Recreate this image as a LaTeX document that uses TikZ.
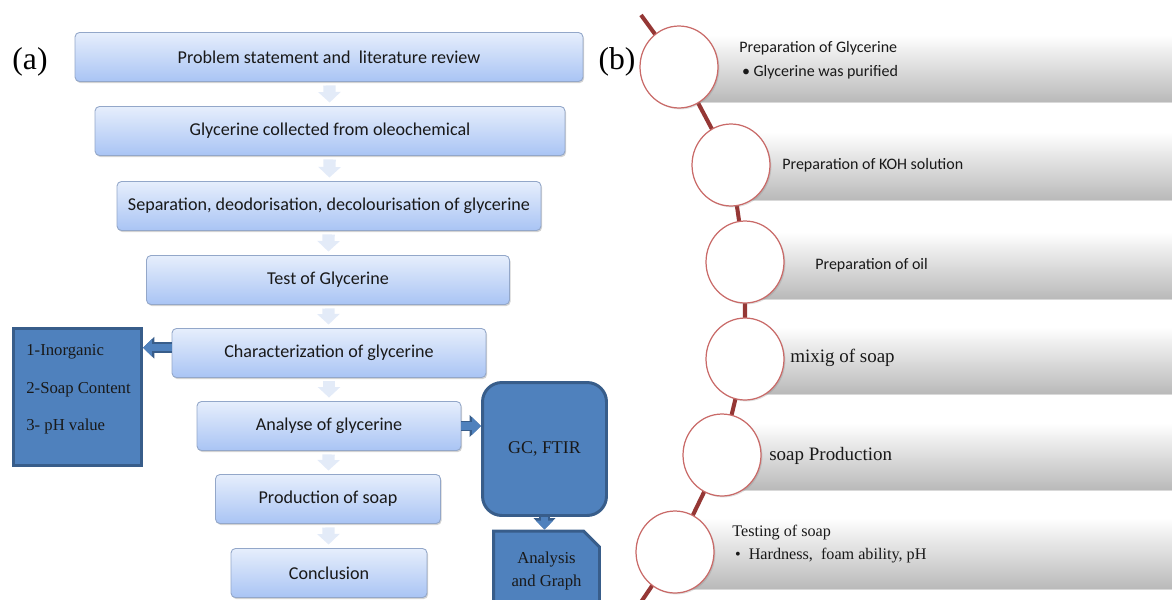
\documentclass[tikz,border=0pt]{standalone}
\usepackage{fontspec}
\setmainfont{Liberation Serif}
\newfontfamily\carlito{Carlito}
\usepackage{xcolor}
\usetikzlibrary{shapes,arrows.meta,positioning,calc,shadows}

\definecolor{boxtop}{HTML}{E6EEFC}
\definecolor{boxbot}{HTML}{A9C4F4}
\definecolor{boxline}{HTML}{93A7C9}
\definecolor{arrowfill}{HTML}{E3EBF8}
\definecolor{bluefill}{HTML}{4F81BD}
\definecolor{blueline}{HTML}{385D8A}
\definecolor{chainred}{HTML}{953735}
\definecolor{ringred}{HTML}{C0504D}

\begin{document}
\begin{tikzpicture}[x=0.02cm, y=-0.02cm,
    stepbox/.style={rectangle, rounded corners=2.5pt, draw=boxline, line width=0.5pt,
      top color=boxtop, bottom color=boxbot, minimum height=0.98cm,
      font=\carlito\fontsize{10.3}{12}\selectfont, text=black!90,
      drop shadow={shadow xshift=0.6pt, shadow yshift=-0.9pt, opacity=0.35}},
    downarrow/.style={draw=arrowfill, line width=7pt, shorten <=2pt, shorten >=2pt,
      -{Triangle[width=12.5pt,length=6pt]}},
    bluebox/.style={draw=blueline, line width=1.7pt, fill=bluefill, text=black!90,
      font=\fontsize{9.5}{13}\selectfont},
    bluearrow/.style={preaction={draw=blueline, line width=6pt,
        -{Triangle[width=12pt,length=6.5pt]}},
      draw=bluefill, line width=4.2pt, -{Triangle[width=9.5pt,length=5pt]}},
    bar/.style={top color=white, bottom color=black!27,
      drop shadow={shadow xshift=0pt, shadow yshift=-1.2pt, opacity=0.3}},
    ring/.style={ellipse, draw=ringred!85, line width=0.7pt, fill=white,
      minimum width=1.56cm, minimum height=1.64cm,
      drop shadow={shadow xshift=0.8pt, shadow yshift=-0.8pt, opacity=0.25}},
    chain/.style={draw=chainred, line width=2.3pt},
    bartext/.style={anchor=west, align=left, inner sep=0pt, text=black!90},
    tag/.style={font=\fontsize{18}{20}\selectfont}]

  \useasboundingbox (0,0) rectangle (1172,599);
  \clip (0,0) rectangle (1172,599);

  % (a) flow chart
  \node[tag] (taga) at (30,62) {(a)};
  \node[stepbox, minimum width=10.16cm] (s1) at (329,57) {Problem statement and \ literature review};
  \node[stepbox, minimum width=9.4cm] (s2) at (330,131) {Glycerine collected from oleochemical};
  \node[stepbox, minimum width=8.48cm] (s3) at (329,206) {Separation, deodorisation, decolourisation of glycerine};
  \node[stepbox, minimum width=7.26cm] (s4) at (328,280) {Test of Glycerine};
  \node[stepbox, minimum width=6.28cm] (s5) at (329,353) {Characterization of glycerine};
  \node[stepbox, minimum width=5.28cm] (s6) at (329,426) {Analyse of glycerine};
  \node[stepbox, minimum width=4.5cm] (s7) at (328,499) {Production of soap};
  \node[stepbox, minimum width=3.92cm] (s8) at (329,573) {Conclusion};

  \foreach \a/\b in {s1/s2,s2/s3,s3/s4,s4/s5,s5/s6,s6/s7,s7/s8}
    \draw[downarrow] (\a) -- (\b);

  % side boxes
  \node[bluebox, minimum width=2.56cm, minimum height=2.74cm] (props) at (77.5,397) {};
  \node[bartext, font=\fontsize{9.5}{21.3}\selectfont] (propstext) at (26,389.5)
    {1-Inorganic\\2-Soap Content\\3- pH value};
  \node[bluebox, rounded corners=11pt, minimum width=2.48cm, minimum height=2.66cm,
    font=\fontsize{10.2}{13}\selectfont] (gc) at (544.5,449) {GC, FTIR};
  \node[bluebox, chamfered rectangle, chamfered rectangle corners=north east,
    chamfered rectangle xsep=6pt, minimum width=2.12cm, minimum height=1.6cm,
    align=center] (graph) at (546.5,571) {Analysis\\and Graph};

  \draw[bluearrow] ([yshift=3pt]s5.west) -- ([yshift=3pt]props.east |- s5.west);
  \draw[bluearrow] (s6.east) -- (gc.west |- s6.east);
  \draw[bluearrow] (gc.south) -- (gc.south |- graph.north);

  % (b) soap steps
  \node[tag] (tagb) at (617,62) {(b)};
  \coordinate (top) at (641,15);
  \coordinate (p1) at (679,67);
  \coordinate (p2) at (731,165);
  \coordinate (p3) at (745,262);
  \coordinate (p4) at (745,359);
  \coordinate (p5) at (722,455);
  \coordinate (p6) at (675,552);
  \coordinate (bot) at (641,602);

  \fill[bar] (679,35) rectangle (1172,101);
  \fill[bar] (731,132) rectangle (1172,199);
  \fill[bar] (745,232) rectangle (1172,298);
  \fill[bar] (745,327) rectangle (1172,393);
  \fill[bar] (722,423) rectangle (1172,489);
  \fill[bar] (675,518) rectangle (1172,588);

  \node[bartext, font=\carlito\fontsize{9.1}{13.6}\selectfont] (t1) at (739,60)
    {Preparation of Glycerine\\\,\textbullet\ Glycerine was purified};
  \node[bartext, font=\carlito\fontsize{9.1}{13.6}\selectfont] (t2) at (782,165) {Preparation of KOH solution};
  \node[bartext, font=\carlito\fontsize{9.1}{13.6}\selectfont] (t3) at (815,265) {Preparation of oil};
  \node[bartext, font=\fontsize{10.8}{13}\selectfont] (t4) at (790,358) {mixig of soap};
  \node[bartext, font=\fontsize{10.8}{13}\selectfont] (t5) at (769,456) {soap Production};
  \node[bartext, font=\fontsize{9.2}{13.6}\selectfont] (t6) at (732,544)
    {Testing of soap\\\,\textbullet\ \ Hardness, \ foam ability, pH};

  \draw[chain] (top) -- (p1) -- (p2) -- (p3) -- (p4) -- (p5) -- (p6) -- (bot);
  \foreach \i in {1,...,6}
    \node[ring] (r\i) at (p\i) {};
\end{tikzpicture}
\end{document}
